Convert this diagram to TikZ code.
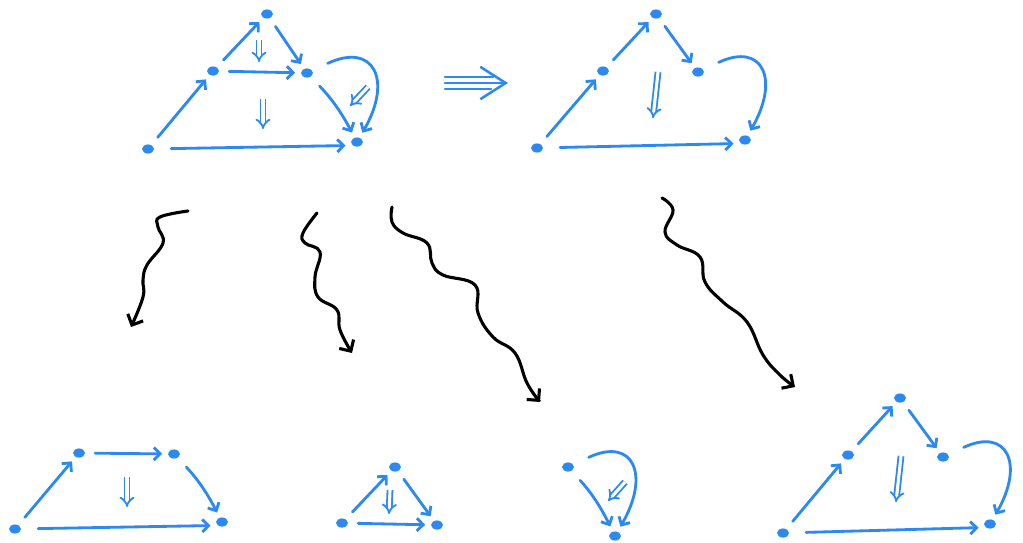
\documentclass[tikz,border=0pt]{standalone}
\usepackage{xcolor}
\usepackage{tikz}
\usetikzlibrary{arrows.meta,shapes.geometric}
\definecolor{penblue}{RGB}{43,137,240}

\tikzset{
  dot/.style={ellipse,fill=penblue,inner sep=0pt,minimum width=8.5pt,minimum height=6.5pt},
  cell/.style={penblue,line width=2pt,line cap=round,shorten <=7pt,shorten >=4pt,
               -{Straight Barb[length=4.5pt,width=9pt]}},
  twocell/.style={penblue,line width=1.3pt,double,double distance=2.2pt,-{Implies}},
  squig/.style={black,line width=2.2pt,line cap=round,-{Straight Barb[length=6pt,width=12pt]}},
}

\begin{document}
\begin{tikzpicture}[x=0.025cm,y=-0.025cm]
    \useasboundingbox (0,0) rectangle (1023,542);
    % Dots of the six diagrams
    \foreach \n/\x/\y in {a1/148/149, a2/213/71, a3/267/14, a4/307/73, a5/357/142,
                          b1/537/148, b2/603/71, b3/656/14, b4/698/72, b5/745/140,
                          c1/15/529, c2/79/453, c3/174/454, c4/222/522,
                          d1/342/523, d2/395/467, d3/437/525,
                          e1/568/467, e2/615/536,
                          f1/783/533, f2/848/455, f3/900/398, f4/943/457, f5/990/524} {
        \node[dot] (\n) at (\x,\y) {};
    }
    % Straight 1-cells
    \foreach \s/\t in {a1/a2, a2/a3, a3/a4, a2/a4, b1/b2, b2/b3, b3/b4,
                       c1/c2, c2/c3, d1/d2, d2/d3, d1/d3, f1/f2, f2/f3, f3/f4} {
        \draw[cell] (\s) -- (\t);
    }
    % Long bottom edges, passing under the corner
    \foreach \s/\t in {a1/a5, b1/b5, c1/c4, f1/f5} {
        \draw[cell,shorten <=12pt,shorten >=5pt] (\s) -- (\t.south west);
    }
    % Short bent edges
    \foreach \s/\t in {a4/a5, c3/c4, e1/e2} {
        \draw[cell,shorten <=9pt] (\s) to[bend left=8] (\t);
    }
    % Loops round the right
    \foreach \s/\t in {a4/a5, b4/b5, e1/e2, f4/f5} {
        \draw[cell,shorten <=12pt] (\s) to[out=25,in=60,looseness=2.1] (\t);
    }
    % 2-cells
    \foreach \n/\xa/\ya/\xb/\yb in {ta/259/40/259/62, tb/263/99/263/129, tc/368/87/350/106,
                                    td/658/72/653/118, te/127/477/127/507, tf/390/490/389/514,
                                    tg/625/482/608/501, th/901/456/896/502} {
        \coordinate (\n s) at (\xa,\ya);
        \coordinate (\n t) at (\xb,\yb);
        \draw[twocell] (\n s) -- (\n t);
    }
    % Triple arrow between the top diagrams
    \coordinate (r1) at (445,77);
    \coordinate (r2) at (445,83);
    \coordinate (r3) at (445,89);
    \coordinate (q1) at (493,77);
    \coordinate (q2) at (508,83);
    \coordinate (q3) at (491,89);
    \draw[penblue,line width=1.8pt,line cap=round] (r1) -- (q1);
    \draw[penblue,line width=1.8pt,line cap=round] (r3) -- (q3);
    \draw[penblue,line width=1.8pt,line cap=round,-{Straight Barb[length=18pt,width=23pt]}] (r2) -- (q2);
    % Squiggly arrows
    \coordinate (w1s) at (188,211);
    \coordinate (w1t) at (131,327);
    \coordinate (w2s) at (317,213);
    \coordinate (w2t) at (352,353);
    \coordinate (w3s) at (392,207);
    \coordinate (w3t) at (540,402);
    \coordinate (w4s) at (662,198);
    \coordinate (w4t) at (795,387);
    \draw[squig] plot[smooth,tension=0.7] coordinates {(w1s) (160,217) (158,227) (163,243) (147,265)
        (143,280) (143,297) (w1t)};
    \draw[squig] plot[smooth,tension=0.7] coordinates {(w2s) (303,233) (305,243) (320,252) (315,277)
        (318,297) (337,310) (340,330) (w2t)};
    \draw[squig] plot[smooth,tension=0.7] coordinates {(w3s) (392,222) (403,233) (427,243) (432,263)
        (443,275) (475,285) (478,313) (493,337) (515,353) (527,383) (w3t)};
    \draw[squig] plot[smooth,tension=0.7] coordinates {(w4s) (673,210) (665,232) (677,245) (700,257)
        (705,282) (723,302) (747,322) (763,355) (780,375) (w4t)};
\end{tikzpicture}
\end{document}
